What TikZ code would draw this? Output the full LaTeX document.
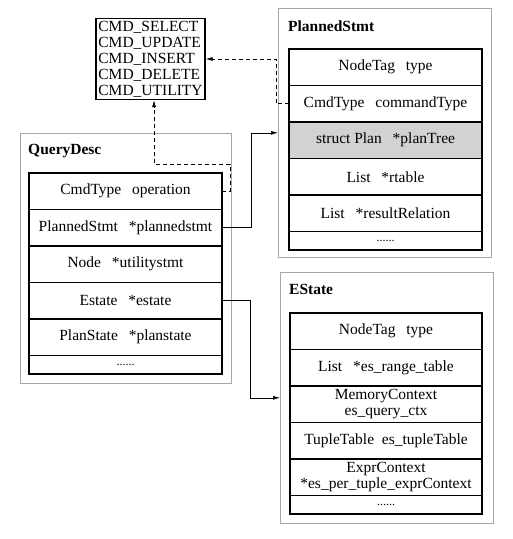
\documentclass[tikz,border=0pt]{standalone}
\usepackage{fontspec}
\setmainfont{Liberation Serif}
\usetikzlibrary{positioning,arrows.meta}
\newcommand{\fieldgap}{\hspace{0.7em}}
\tikzset{
  field/.style={draw,line width=1.2pt,outer sep=0pt,minimum width=193pt,minimum height=36.5pt,
    inner sep=1pt,align=center,font=\fontsize{15.5}{16.5}\selectfont},
  shadedfield/.style={field,fill=gray!35},
  dotfield/.style={field,minimum height=18.5pt,font=\fontsize{12}{12}\selectfont},
  outerbox/.style={draw=gray!70,line width=0.6pt,anchor=north west},
  boxtitle/.style={anchor=west,inner sep=0pt,font=\fontsize{15.5}{16}\selectfont\bfseries},
  enumbox/.style={draw,line width=1.2pt,align=left,inner sep=2.5pt,minimum width=109pt,
    minimum height=80pt,font=\fontsize{15.5}{16}\selectfont},
  link/.style={line width=0.6pt,->,>={Latex[length=7pt,width=4pt]}},
  dashlink/.style={link,dash pattern=on 4pt off 3pt}
}
\begin{document}
\begin{tikzpicture}[x=1pt,y=-1pt]
  \useasboundingbox (0,0) rectangle (513,539);
  % enum of command types
  \node[enumbox] (cmdEnum) at (150.5,59)
    {CMD\_SELECT\\CMD\_UPDATE\\CMD\_INSERT\\CMD\_DELETE\\CMD\_UTILITY};
  % PlannedStmt
  \node[outerbox,minimum width=213pt,minimum height=249pt] (psBox) at (278,8) {};
  \node[boxtitle] (psTitle) at (288,26) {PlannedStmt};
  \node[field,anchor=north west] (psType) at (289,49) {NodeTag\fieldgap type};
  \node[field,below=0pt of psType] (psCmd) {CmdType\fieldgap commandType};
  \node[shadedfield,below=0pt of psCmd] (psPlan) {struct Plan\fieldgap *planTree};
  \node[field,below=0pt of psPlan] (psRtable) {List\fieldgap *rtable};
  \node[field,below=0pt of psRtable] (psResult) {List\fieldgap *resultRelation};
  \node[dotfield,below=0pt of psResult] (psMore) {......};
  % QueryDesc
  \node[outerbox,minimum width=211pt,minimum height=250pt] (qdBox) at (20,133) {};
  \node[boxtitle] (qdTitle) at (28,151) {QueryDesc};
  \node[field,anchor=north west] (qdOp) at (29,173) {CmdType\fieldgap operation};
  \node[field,below=0pt of qdOp] (qdPlanned) {PlannedStmt\fieldgap *plannedstmt};
  \node[field,below=0pt of qdPlanned] (qdUtility) {Node\fieldgap *utilitystmt};
  \node[field,below=0pt of qdUtility] (qdEstate) {Estate\fieldgap *estate};
  \node[field,below=0pt of qdEstate] (qdPlanstate) {PlanState\fieldgap *planstate};
  \node[dotfield,below=0pt of qdPlanstate] (qdMore) {......};
  % EState
  \node[outerbox,minimum width=213pt,minimum height=251pt] (esBox) at (280,272) {};
  \node[boxtitle] (esTitle) at (289,289) {EState};
  \node[field,anchor=north west,minimum width=192pt] (esType) at (290,313) {NodeTag\fieldgap type};
  \node[field,minimum width=192pt,below=0pt of esType] (esRange) {List\fieldgap *es\_range\_table};
  \node[field,minimum width=192pt,below=0pt of esRange] (esCtx) {MemoryContext\\es\_query\_ctx};
  \node[field,minimum width=192pt,below=0pt of esCtx] (esTuple) {TupleTable\ \ es\_tupleTable};
  \node[field,minimum width=192pt,below=0pt of esTuple] (esExpr) {ExprContext\\*es\_per\_tuple\_exprContext};
  \node[dotfield,minimum width=192pt,below=0pt of esExpr] (esMore) {......};
  % connectors
  \draw[dashlink] (psCmd.west) -- ++(-13,0) |- (cmdEnum.east);
  \draw[dashlink] (qdOp.east) -- ++(8,0) -- ++(0,-27) -| ([xshift=3.5pt]cmdEnum.south);
  \draw[link] (qdPlanned.east) -- ++(29,0) |- (psBox.west);
  \draw[link] (qdEstate.east) -- ++(28,0) |- (esBox.west);
\end{tikzpicture}
\end{document}
